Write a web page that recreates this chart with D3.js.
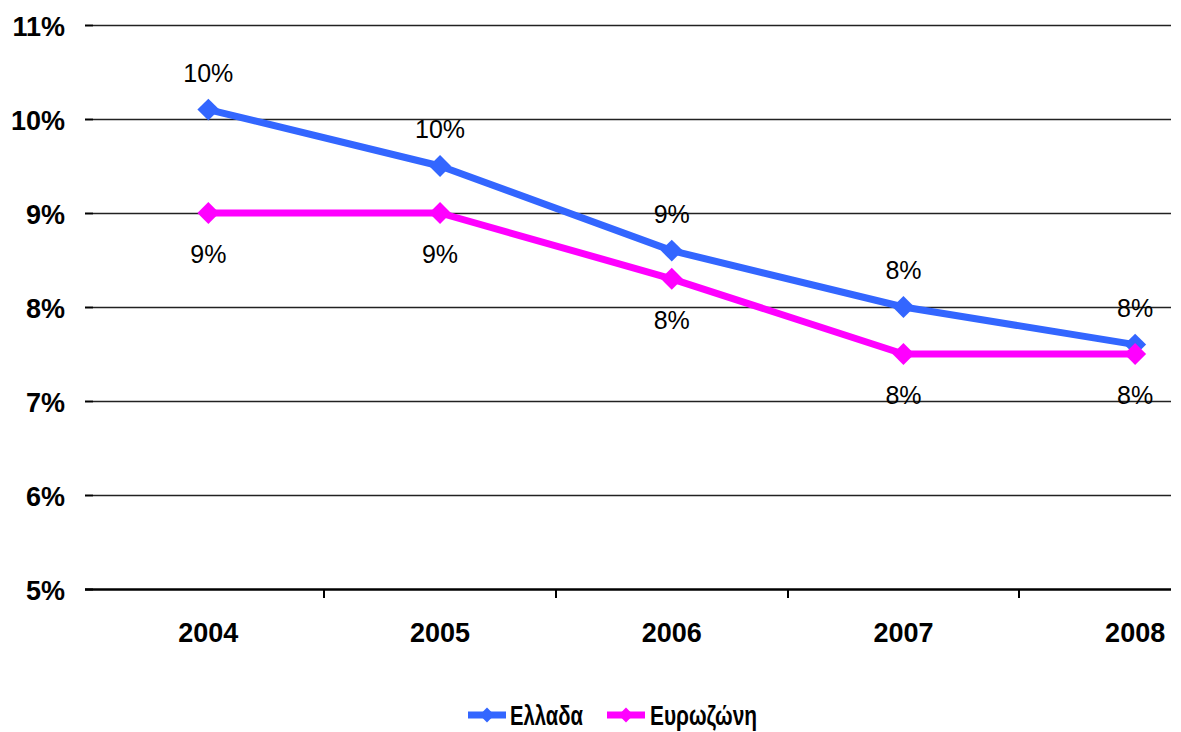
<!DOCTYPE html>
<html><head><meta charset="utf-8">
<script src="https://cdn.jsdelivr.net/npm/d3@7"></script>
<style>body{margin:0;background:#fff}svg{display:block}text{font-family:"Liberation Sans",Arial,sans-serif}</style>
</head><body>
<script>
const years = ["2004","2005","2006","2007","2008"];
const greece = [10.1, 9.5, 8.6, 8.0, 7.6];
const eurozone = [9.0, 9.0, 8.3, 7.5, 7.5];
const yTicks = [5, 6, 7, 8, 9, 10, 11];
const seriesNames = ["Ελλαδα", "Ευρωζώνη"];
const seriesColors = ["#3366FF", "#FF00FF"];

const W = 1181, H = 732;
const svg = d3.select("body").append("svg").attr("width", W).attr("height", H);

const x = d3.scaleBand().domain(years).range([92.5, 1251]);
const y = d3.scaleLinear().domain([5, 11]).range([589, 25]);
const plotRight = 1171;

// gridlines
svg.append("g").selectAll("line").data(yTicks.slice(1)).join("line")
  .attr("x1", 93).attr("x2", plotRight)
  .attr("y1", d => Math.round(y(d)) + 0.5).attr("y2", d => Math.round(y(d)) + 0.5)
  .attr("stroke", "#222").attr("stroke-width", 1.3);
// y ticks
svg.append("g").selectAll("line").data(yTicks).join("line")
  .attr("x1", 85).attr("x2", 93)
  .attr("y1", d => Math.round(y(d)) + 0.5).attr("y2", d => Math.round(y(d)) + 0.5)
  .attr("stroke", "#000").attr("stroke-width", 2);
// y labels
svg.append("g").selectAll("text").data(yTicks).join("text")
  .attr("x", 65).attr("y", d => y(d) + 2)
  .attr("text-anchor", "end").attr("dominant-baseline", "central")
  .attr("font-size", 27).attr("font-weight", "bold").attr("fill", "#000")
  .text(d => d + "%");
// x axis baseline
svg.append("line").attr("x1", 85).attr("x2", plotRight)
  .attr("y1", y(5) + 0.5).attr("y2", y(5) + 0.5)
  .attr("stroke", "#000").attr("stroke-width", 2.5);
// x ticks between categories
svg.append("g").selectAll("line").data(years.slice(1)).join("line")
  .attr("x1", d => Math.round(x(d))).attr("x2", d => Math.round(x(d)))
  .attr("y1", y(5)).attr("y2", y(5) + 9)
  .attr("stroke", "#000").attr("stroke-width", 2);
// x labels
svg.append("g").selectAll("text").data(years).join("text")
  .attr("x", d => x(d) + x.bandwidth() / 2).attr("y", 633)
  .attr("text-anchor", "middle").attr("dominant-baseline", "central")
  .attr("font-size", 27).attr("font-weight", "bold").attr("fill", "#000")
  .text(d => d);

const cx = d => x(d) + x.bandwidth() / 2;
const line = d3.line().x(d => cx(d.year)).y(d => y(d.v));
const diamond = d3.symbol().type(d3.symbolSquare).size(240);

const series = [greece, eurozone].map((vals, i) => ({
  name: seriesNames[i], color: seriesColors[i],
  pts: years.map((yr, j) => ({year: yr, v: vals[j]}))
}));

series.forEach((s, i) => {
  const g = svg.append("g");
  g.append("path").datum(s.pts).attr("d", line)
    .attr("fill", "none").attr("stroke", s.color).attr("stroke-width", 7)
    .attr("stroke-linejoin", "round");
  g.selectAll("path.m").data(s.pts).join("path").attr("class", "m")
    .attr("d", diamond)
    .attr("transform", d => `translate(${cx(d.year)},${y(d.v)}) rotate(45)`)
    .attr("fill", s.color);
  g.selectAll("text").data(s.pts).join("text")
    .attr("x", d => cx(d.year))
    .attr("y", d => i === 0 ? y(d.v) - 37 : y(d.v) + 41)
    .attr("text-anchor", "middle").attr("dominant-baseline", "central")
    .attr("font-size", 25).attr("fill", "#000")
    .text(d => Math.round(d.v) + "%");
});

// legend
const legendItems = [{x0: 468, tx: 510, tw: 73}, {x0: 607, tx: 650, tw: 107}];
series.forEach((s, i) => {
  const L = legendItems[i];
  const g = svg.append("g");
  g.append("line").attr("x1", L.x0).attr("x2", L.x0 + 38).attr("y1", 715).attr("y2", 715)
    .attr("stroke", s.color).attr("stroke-width", 7);
  g.append("path").attr("d", d3.symbol().type(d3.symbolSquare).size(110))
    .attr("transform", `translate(${L.x0 + 19},715) rotate(45)`).attr("fill", s.color);
  g.append("text").attr("x", L.tx).attr("y", 716).attr("dominant-baseline", "central")
    .attr("font-size", 27).attr("font-weight", "bold").attr("fill", "#000")
    .attr("textLength", L.tw).attr("lengthAdjust", "spacingAndGlyphs").text(s.name);
});
</script>
</body></html>
